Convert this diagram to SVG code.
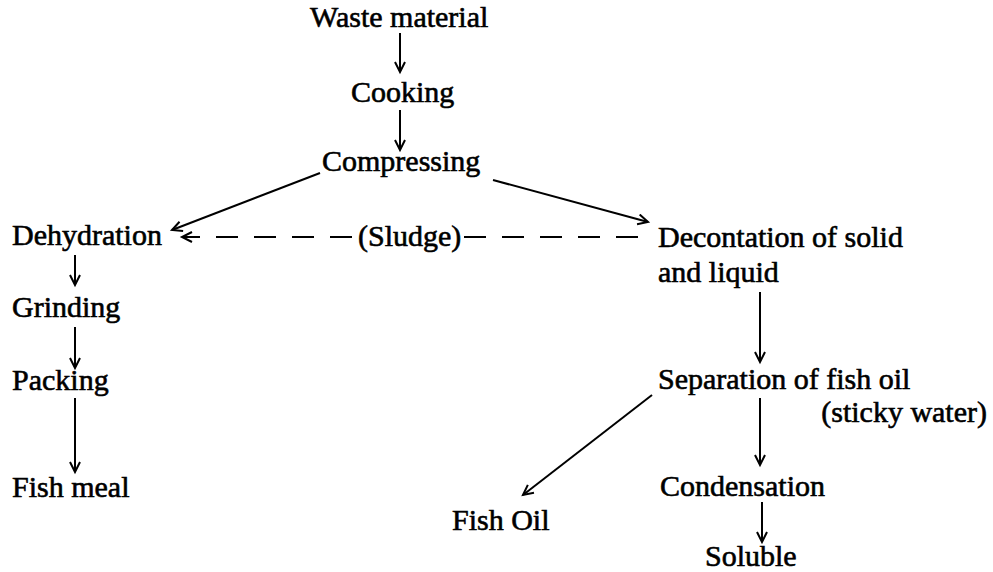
<svg xmlns="http://www.w3.org/2000/svg" width="993" height="572" viewBox="0 0 993 572">
<defs>
<marker id="ah" markerUnits="userSpaceOnUse" markerWidth="14" markerHeight="14" refX="11" refY="6" orient="auto">
<path d="M1,1 L11,6 L1,11" fill="none" stroke="#000" stroke-width="2"/>
</marker>
</defs>
<style>
text{font-family:"Liberation Serif","Times New Roman",serif;font-size:30px;fill:#000;stroke:#000;stroke-width:0.6}
.c line,.c path{stroke:#000;stroke-width:2;fill:none}
.d{stroke-dasharray:22 16}
</style>
<rect width="993" height="572" fill="#fff"/>
<g id="n-waste"><text x="310" y="27">Waste material</text></g>
<g id="n-cooking"><text x="351" y="102">Cooking</text></g>
<g id="n-compressing"><text x="322" y="171">Compressing</text></g>
<g id="n-dehydration"><text x="12" y="245">Dehydration</text></g>
<g id="n-sludge"><text x="358" y="246">(Sludge)</text></g>
<g id="n-decontation"><text x="658" y="247">Decontation of solid</text><text x="658" y="282">and liquid</text></g>
<g id="n-grinding"><text x="12" y="317">Grinding</text></g>
<g id="n-packing"><text x="12" y="390">Packing</text></g>
<g id="n-fishmeal"><text x="12" y="497">Fish meal</text></g>
<g id="n-separation"><text x="658" y="389">Separation of fish oil</text></g>
<g id="n-sticky"><text x="987" y="422" text-anchor="end">(sticky water)</text></g>
<g id="n-fishoil"><text x="452" y="530">Fish Oil</text></g>
<g id="n-condensation"><text x="660" y="496">Condensation</text></g>
<g id="n-soluble"><text x="705" y="566">Soluble</text></g>
<g id="connectors" class="c">
<line x1="400" y1="33" x2="400" y2="72" marker-end="url(#ah)"/>
<line x1="400" y1="110" x2="400" y2="150" marker-end="url(#ah)"/>
<line x1="320" y1="173" x2="172" y2="230" marker-end="url(#ah)"/>
<line x1="493" y1="180" x2="648" y2="222" marker-end="url(#ah)"/>
<line class="d" x1="352" y1="237" x2="182" y2="237" marker-end="url(#ah)"/>
<line class="d" x1="464" y1="237" x2="650" y2="237"/>
<line x1="75" y1="255" x2="75" y2="285" marker-end="url(#ah)"/>
<line x1="75" y1="327" x2="75" y2="368" marker-end="url(#ah)"/>
<line x1="75" y1="398" x2="75" y2="472" marker-end="url(#ah)"/>
<line x1="760" y1="292" x2="760" y2="362" marker-end="url(#ah)"/>
<line x1="760" y1="398" x2="760" y2="465" marker-end="url(#ah)"/>
<line x1="652" y1="395" x2="523" y2="495" marker-end="url(#ah)"/>
<line x1="762" y1="502" x2="762" y2="542" marker-end="url(#ah)"/>
</g>
</svg>
